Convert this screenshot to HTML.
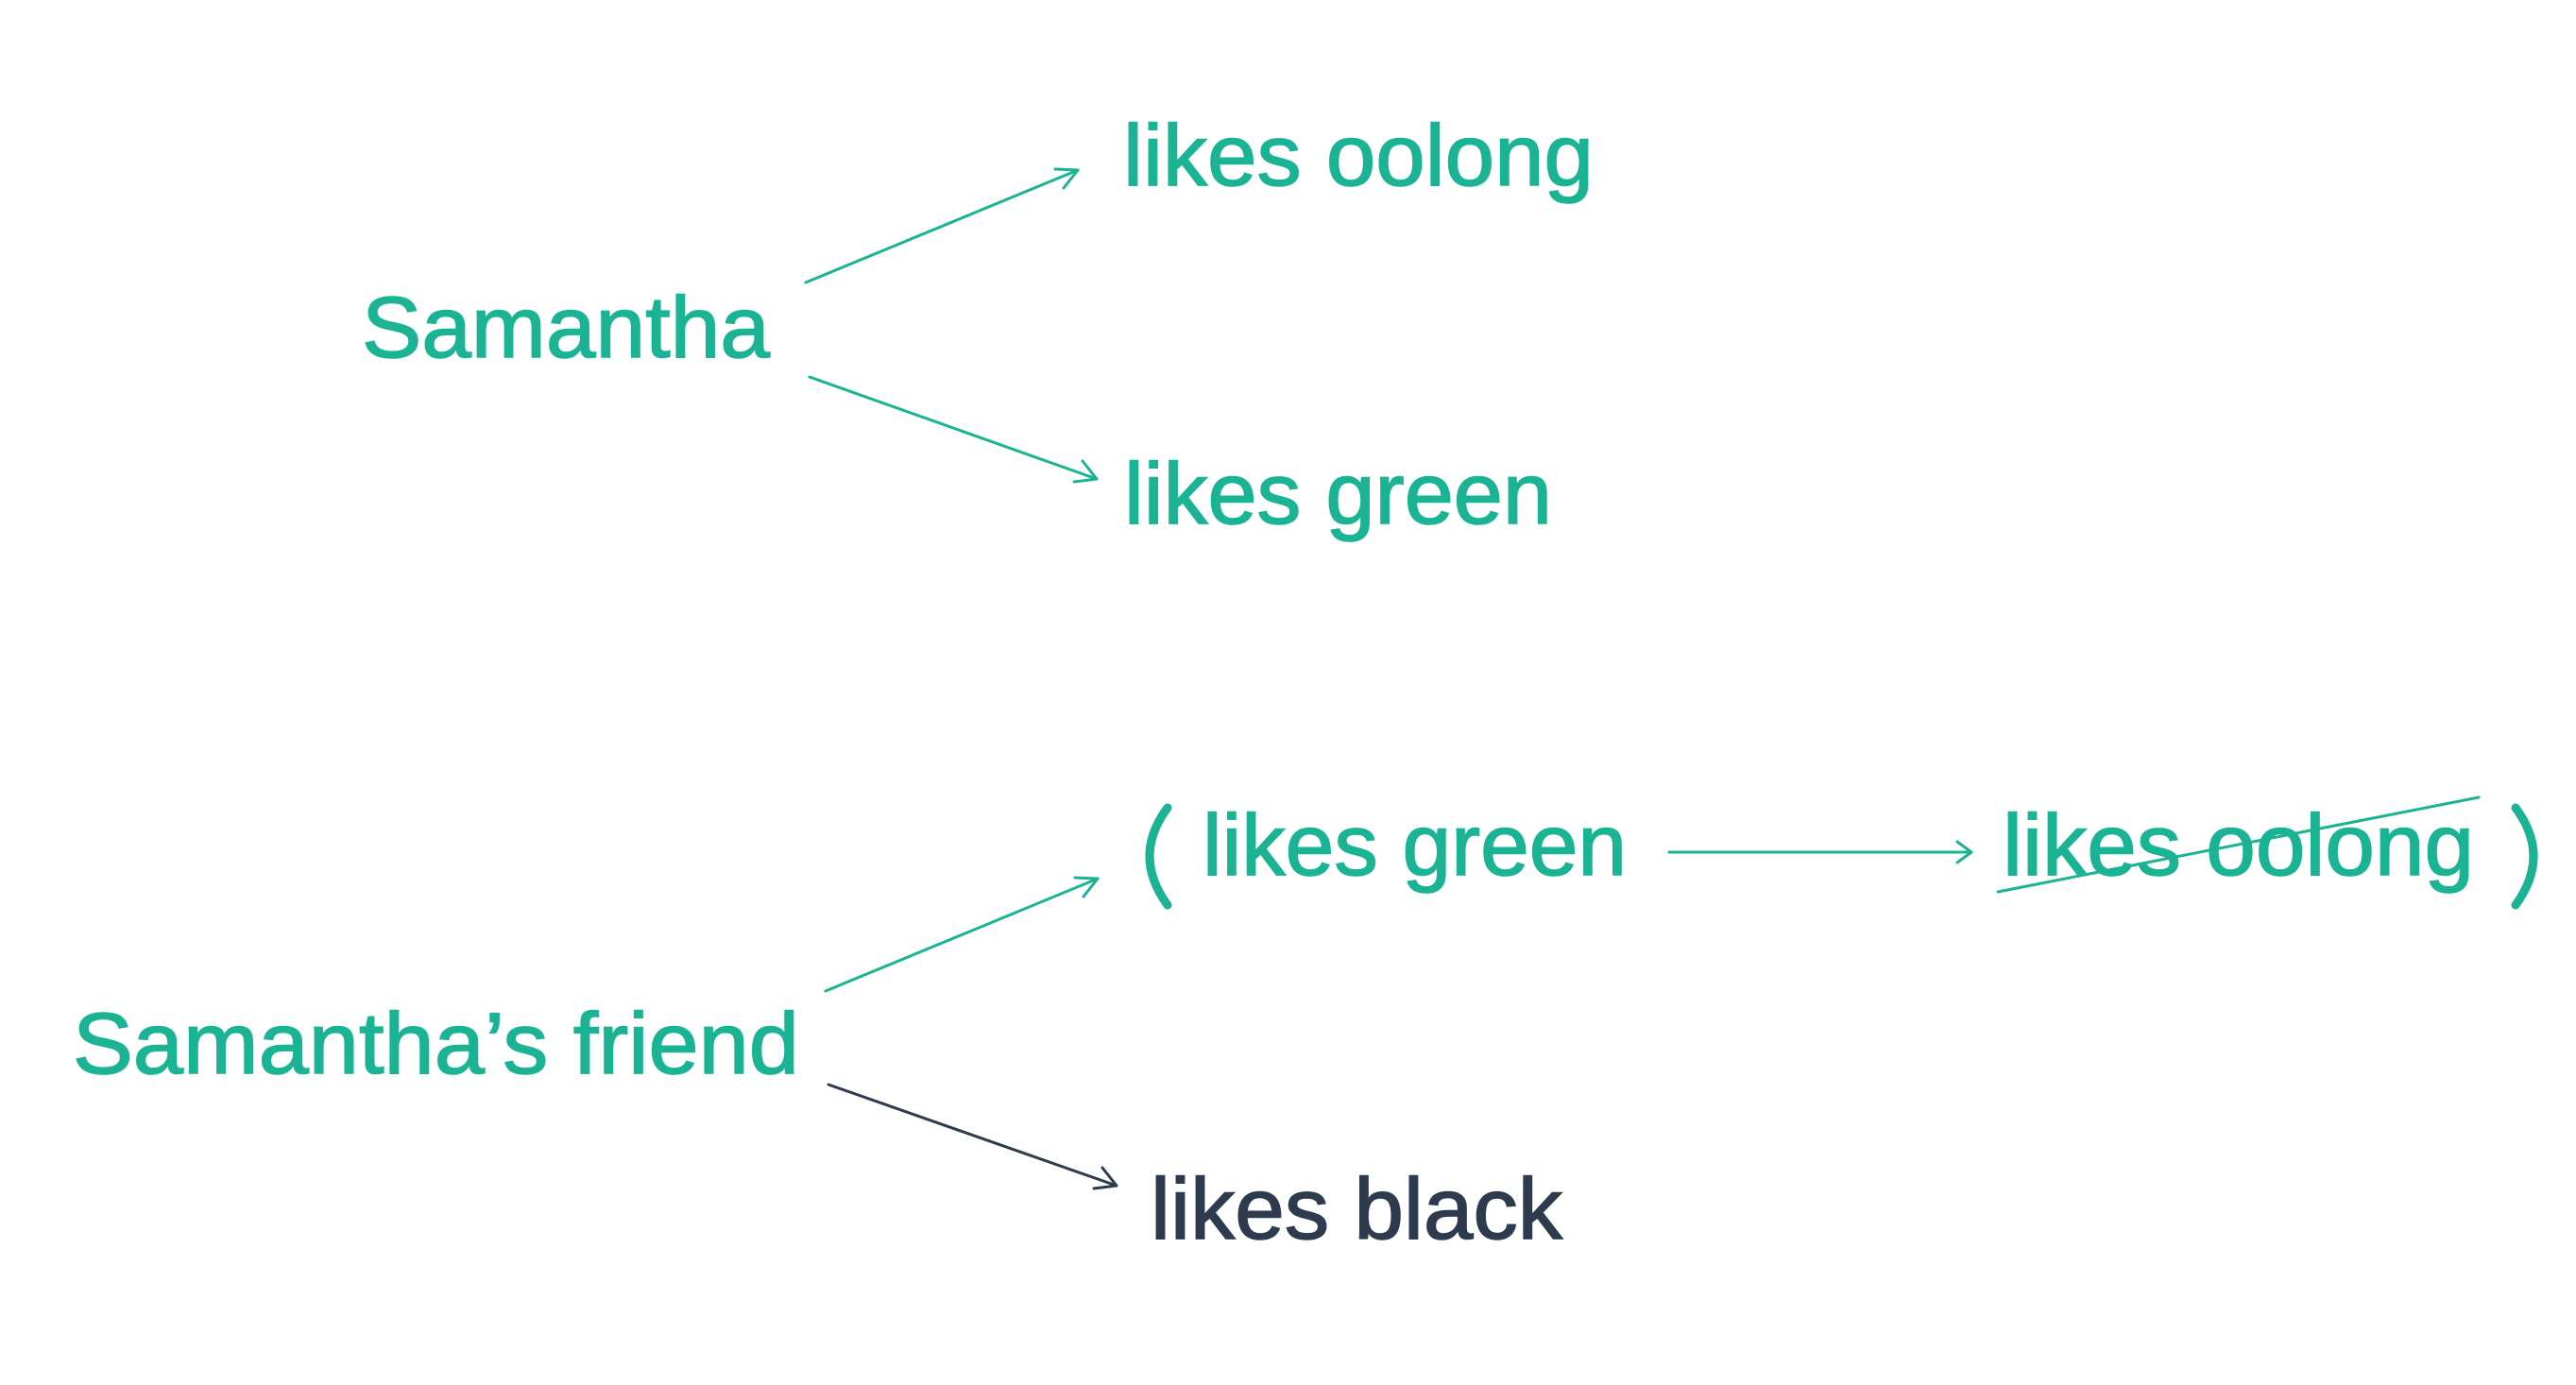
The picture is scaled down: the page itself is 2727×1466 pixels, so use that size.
<!DOCTYPE html>
<html><head><meta charset="utf-8"><style>
html,body{margin:0;padding:0;background:#fff;}
svg{display:block;}
text{font-family:"Liberation Sans",sans-serif;font-size:92px;stroke-width:1.5px;}
</style></head><body>
<svg width="2727" height="1466" viewBox="0 0 2727 1466" xmlns="http://www.w3.org/2000/svg">
<g fill="#1ab394" stroke="#1ab394">
<text x="1189" y="196" textLength="498" lengthAdjust="spacingAndGlyphs">likes oolong</text>
<text x="383" y="378" textLength="432" lengthAdjust="spacingAndGlyphs">Samantha</text>
<text x="1190" y="554" textLength="453" lengthAdjust="spacingAndGlyphs">likes green</text>
<text x="1273" y="926" textLength="449" lengthAdjust="spacingAndGlyphs">likes green</text>
<text x="2120" y="926" textLength="499" lengthAdjust="spacingAndGlyphs">likes oolong</text>
<text x="77" y="1136" textLength="769" lengthAdjust="spacingAndGlyphs">Samantha’s friend</text>
</g>
<text x="1218" y="1311" fill="#2e3a4e" stroke="#2e3a4e" textLength="436" lengthAdjust="spacingAndGlyphs">likes black</text>
<g stroke="#1ab394" stroke-width="3" fill="none" stroke-linecap="round" stroke-linejoin="round">
<line x1="853" y1="299" x2="1141" y2="180"/>
<polyline points="1117,179 1141,180 1126,199"/>
<line x1="857" y1="399" x2="1161" y2="507"/>
<polyline points="1146,488 1161,507 1137,510"/>
<line x1="1767" y1="902" x2="2087" y2="902"/>
<polyline points="2072,891 2087,902 2072,913"/>
<line x1="874" y1="1049" x2="1162" y2="930"/>
<polyline points="1138,929 1162,930 1147,949"/>
<line x1="2115" y1="944" x2="2624" y2="844"/>
</g>
<g stroke="#2e3a4e" stroke-width="3" fill="none" stroke-linecap="round" stroke-linejoin="round">
<line x1="877" y1="1148" x2="1182" y2="1255"/>
<polyline points="1167,1236 1182,1255 1158,1258"/>
</g>
<g stroke="#1ab394" stroke-width="9" fill="none" stroke-linecap="round">
<path d="M1236,855 Q1198,906 1236,958"/>
<path d="M2663,855 Q2701,906 2663,958"/>
</g>
</svg>
</body></html>
